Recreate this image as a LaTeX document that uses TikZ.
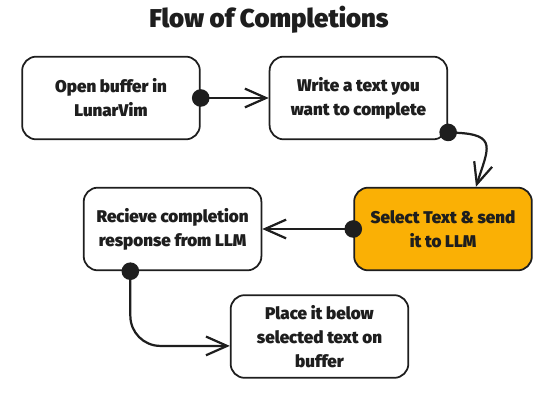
\documentclass[tikz,border=0pt]{standalone}
\usepackage{fontspec}
\setmainfont{Fira Sans}[BoldFont={* Black}]
\usetikzlibrary{arrows.meta, calc, positioning}
\definecolor{ink}{HTML}{1E1E1E}
\definecolor{excorange}{HTML}{FAB005}
\tikzset{
  %step node style
  stepnode/.style={
    draw=ink
    , fill=white
    , text=ink
    , line width=1.5pt
    , anchor=center
    , align=center
    , rounded corners=12pt
    , minimum width=5.33cm
    , minimum height=2.48cm
    , font=\fontsize{14.5}{20.5}\selectfont\bfseries
    %, inner sep=2pt
  },
}
\begin{document}
\begin{tikzpicture}[x=0.03cm, y=-0.03cm]
  \tikzstyle{task}=[stepnode]
  \tikzstyle{busy}=[stepnode, fill=excorange]
  \tikzstyle{flow}=[draw=ink, line width=1.9pt
                    , {Circle[length=15pt]}-{Straight Barb[length=18pt, width=16pt]}
                    , shorten <=-7.5pt]
  \useasboundingbox (0,0) rectangle (559,402);

  \node [font=\fontsize{22}{26}\selectfont\bfseries, text=ink] (title) at (269,20) {Flow of Completions};

  \node [task] (open) at (111,98) {Open buffer in\\LunarVim};
  \node [task, right=2.04cm of open] (write) {Write a text you\\want to complete};
  \node [busy] (send) at (443,229) {Select Text \& send\\it to LLM};
  \node [task, left=2.73cm of send] (recv) {Recieve completion\\response from LLM};
  \node [task] (place) at (319.5,336.5) {Place it below\\selected text on\\buffer};

  \draw [flow] (open.east) -- (write.west);
  \draw [flow] (write.-21) .. controls +(50,2) and +(12,-38) .. (send.52);
  \draw [flow] (send.west) -- (recv.east);
  \draw [flow, rounded corners=0.9cm] (recv.225) |- (place.186);

\end{tikzpicture}
\end{document}
